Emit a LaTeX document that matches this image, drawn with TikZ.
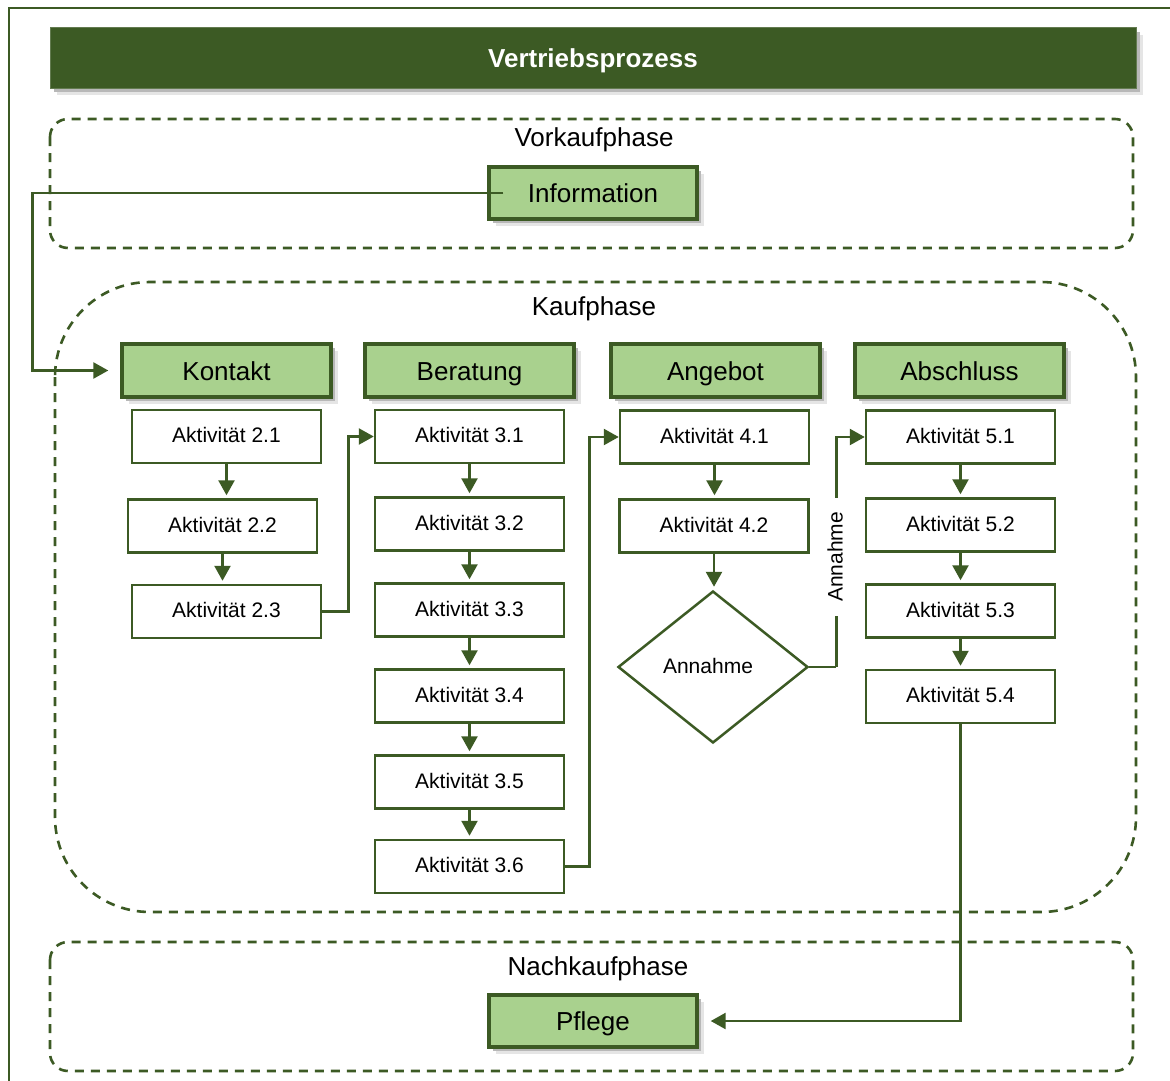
\documentclass[tikz,border=0pt]{standalone}
\usepackage{fontspec}
\setmainfont{Liberation Sans}
\usetikzlibrary{shapes.geometric,arrows.meta,shadows}
\definecolor{dkgreen}{RGB}{60,90,36}
\definecolor{ltgreen}{RGB}{169,209,142}
\tikzset{
  sh/.style={general shadow={shadow xshift=7pt,shadow yshift=-7pt,fill=black!10},
             general shadow={shadow xshift=4pt,shadow yshift=-4pt,fill=black!28}},
  phase/.style={draw=dkgreen,line width=2.6pt,dash pattern=on 9pt off 7pt},
  phaselabel/.style={font=\fontsize{26}{30}\selectfont,inner sep=0pt,anchor=base},
  head/.style={sh,draw=dkgreen,fill=ltgreen,line width=3.4pt,inner sep=0pt,
               text height=19pt,text depth=0pt,
               minimum width=209pt,minimum height=53pt,font=\fontsize{26}{30}\selectfont},
  act/.style={draw=dkgreen,fill=white,line width=2.5pt,inner sep=0pt,
              text height=15pt,text depth=3pt,
              minimum width=189pt,minimum height=53pt,font=\fontsize{21}{25}\selectfont},
  flow/.style={draw=dkgreen,line width=2.5pt,-{Triangle[length=15pt,width=16pt]}},
  link/.style={draw=dkgreen,line width=2.5pt},
}
\begin{document}
\begin{tikzpicture}[x=1pt,y=-1pt]
\useasboundingbox (0,0) rectangle (1170,1081);
\fill[white] (0,0) rectangle (1170,1081);
% outer frame
\draw[dkgreen,line width=2.5pt] (9,8) rectangle (1190,1100);

% title bar
\node[sh,fill=dkgreen,draw=dkgreen!80!white,line width=1pt,inner sep=0pt,
      minimum width=1086pt,minimum height=60pt,text=white,
      text height=19pt,text depth=0pt,
      font=\bfseries\fontsize{26}{30}\selectfont] (title) at (593,58) {Vertriebsprozess};

% phases
\draw[phase,rounded corners=18pt] (50,119) rectangle (1133,248);
\node[phaselabel] (vorkauf) at (594,146) {Vorkaufphase};
\draw[phase,rounded corners=95pt] (55,282) rectangle (1136,912);
\node[phaselabel] (kauf) at (594,315) {Kaufphase};
\draw[phase,rounded corners=18pt] (50,942) rectangle (1133,1071);
\node[phaselabel] (nachkauf) at (598,975) {Nachkaufphase};

% main steps
\node[head,minimum width=208pt,minimum height=52pt] (info) at (593,193) {Information};
\node[head] (kontakt) at (226.5,370.5) {Kontakt};
\node[head] (beratung) at (469.5,370.5) {Beratung};
\node[head] (angebot) at (715.5,370.5) {Angebot};
\node[head] (abschluss) at (959.5,370.5) {Abschluss};
\node[head,minimum width=208pt,minimum height=52pt] (pflege) at (593,1021) {Pflege};

% activities
\node[act] (a21) at (226.5,436.5) {Aktivität 2.1};
\node[act] (a22) at (222.5,526) {Aktivität 2.2};
\node[act] (a23) at (226.5,611.5) {Aktivität 2.3};

\node[act] (a31) at (469.5,436.5) {Aktivität 3.1};
\node[act] (a32) at (469.5,524) {Aktivität 3.2};
\node[act] (a33) at (469.5,610) {Aktivität 3.3};
\node[act] (a34) at (469.5,696) {Aktivität 3.4};
\node[act] (a35) at (469.5,782) {Aktivität 3.5};
\node[act] (a36) at (469.5,866.5) {Aktivität 3.6};

\node[act] (a41) at (714.5,437) {Aktivität 4.1};
\node[act] (a42) at (714,526) {Aktivität 4.2};
\node[diamond,draw=dkgreen,fill=white,line width=2.5pt,inner sep=0pt,
      minimum width=190pt,minimum height=152pt,
      font=\fontsize{21}{25}\selectfont] (dec) at (713,667) {\raisebox{3pt}{\hspace*{-10pt}Annahme}};

\node[act] (a51) at (960.5,437) {Aktivität 5.1};
\node[act] (a52) at (960.5,525) {Aktivität 5.2};
\node[act] (a53) at (960.5,611) {Aktivität 5.3};
\node[act] (a54) at (960.5,696.5) {Aktivität 5.4};

% connectors
\draw[flow,shorten >=12pt] ([xshift=16pt]info.west) -- ++(-471,0) |- (kontakt.west);

\draw[flow,shorten >=3pt] (a21.south) -- (a21.south |- a22.north);
\draw[flow,shorten >=3pt] (a22.south) -- (a22.south |- a23.north);
\draw[flow] (a23.east) -- ++(26,0) |- (a31.west);

\draw[flow,shorten >=3pt] (a31.south) -- (a31.south |- a32.north);
\draw[flow,shorten >=3pt] (a32.south) -- (a32.south |- a33.north);
\draw[flow,shorten >=3pt] (a33.south) -- (a33.south |- a34.north);
\draw[flow,shorten >=3pt] (a34.south) -- (a34.south |- a35.north);
\draw[flow,shorten >=3pt] (a35.south) -- (a35.south |- a36.north);
\draw[flow] (a36.east) -- ++(24,0) |- (a41.west);

\draw[flow,shorten >=3pt] (a41.south) -- (a41.south |- a42.north);
\draw[flow,shorten >=3pt] (a42.south) -- (a42.south |- dec.north);
\draw[link] (dec.east) -- ++(27,0) coordinate (decbend);
\draw[flow] (decbend) |- (a51.west);
\node[rotate=90,fill=white,inner xsep=14pt,inner ysep=3pt,
      font=\fontsize{21}{25}\selectfont] (annlabel) at (835,557) {Annahme};

\draw[flow,shorten >=3pt] (a51.south) -- (a51.south |- a52.north);
\draw[flow,shorten >=3pt] (a52.south) -- (a52.south |- a53.north);
\draw[flow,shorten >=3pt] (a53.south) -- (a53.south |- a54.north);
\draw[flow,shorten >=12pt] (a54.south) |- (pflege.east);
\end{tikzpicture}
\end{document}
